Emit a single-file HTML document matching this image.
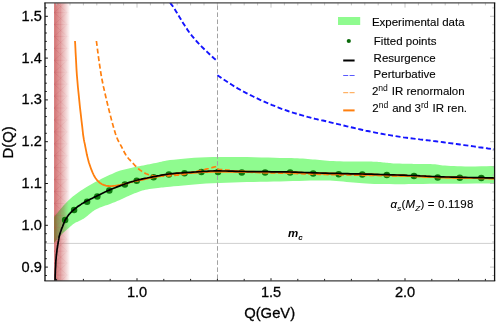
<!DOCTYPE html>
<html><head><meta charset="utf-8"><title>D(Q) plot</title>
<style>
html,body{margin:0;padding:0;background:#fff;}
body{width:498px;height:323px;position:relative;overflow:hidden;font-family:"Liberation Sans",sans-serif;color:#111;}
.t{position:absolute;white-space:nowrap;line-height:1;-webkit-text-stroke:0.3px #000;color:#000;font-family:"Liberation Sans",sans-serif;}
.sup{font-size:0.75em;position:relative;top:-0.45em;line-height:0;margin-right:0.7px;-webkit-text-stroke:0;}
.sub{font-size:0.7em;position:relative;top:0.36em;line-height:0;}
</style></head><body>
<svg width="498" height="323" viewBox="0 0 498 323" style="position:absolute;left:0;top:0">
<defs>
<clipPath id="cp"><rect x="45.0" y="2.8" width="449.6" height="278.09999999999997"/></clipPath>
<linearGradient id="rg" x1="0" x2="1" y1="0" y2="0"><stop offset="0" stop-color="#cd5c5c" stop-opacity="0.88"/><stop offset="0.45" stop-color="#cd5c5c" stop-opacity="0.52"/><stop offset="0.8" stop-color="#cd5c5c" stop-opacity="0.2"/><stop offset="1" stop-color="#cd5c5c" stop-opacity="0"/></linearGradient>
<linearGradient id="mg" gradientUnits="userSpaceOnUse" x1="54.1" x2="69.6" y1="0" y2="0"><stop offset="0" stop-color="#b8444e" stop-opacity="0.28"/><stop offset="0.6" stop-color="#c8606a" stop-opacity="0.16"/><stop offset="1" stop-color="#d88088" stop-opacity="0"/></linearGradient>
</defs>
<g clip-path="url(#cp)">
<line x1="45.0" x2="494.6" y1="243.4" y2="243.4" stroke="#cfcfcf" stroke-width="1"/>
<rect x="54.1" y="2.8" width="16.1" height="278.09999999999997" fill="url(#rg)"/>
<clipPath id="ov"><rect x="50" y="2.8" width="20" height="278.09999999999997"/></clipPath>
<clipPath id="nov"><rect x="70" y="2.8" width="430" height="278.09999999999997"/></clipPath>
<path d="M54.1,216.8 L54.7,216.0 L55.6,215.0 L56.7,213.7 L57.8,212.4 L58.9,211.1 L60.0,209.8 L61.0,208.6 L61.9,207.4 L62.9,206.3 L63.9,205.1 L65.0,203.9 L66.1,202.7 L67.3,201.5 L68.6,200.3 L70.0,199.0 L71.4,197.8 L72.8,196.6 L74.2,195.5 L75.5,194.4 L76.9,193.5 L78.2,192.5 L79.6,191.6 L81.0,190.6 L82.7,189.5 L84.6,188.3 L86.6,187.1 L88.7,185.8 L90.9,184.5 L93.1,183.3 L95.2,182.1 L97.3,181.0 L99.4,179.9 L101.5,178.8 L103.6,177.8 L105.7,176.8 L107.8,175.8 L109.9,174.8 L112.0,173.9 L114.0,173.0 L116.1,172.1 L118.2,171.3 L120.3,170.6 L122.4,170.0 L124.5,169.4 L126.6,168.9 L128.7,168.4 L130.8,168.0 L132.9,167.5 L135.0,167.0 L137.1,166.6 L139.2,166.2 L141.2,165.8 L143.3,165.4 L145.4,165.0 L147.5,164.6 L149.6,164.2 L151.7,163.7 L153.8,163.3 L155.9,162.9 L158.0,162.5 L159.8,162.1 L161.4,161.7 L162.9,161.3 L164.7,160.9 L167.0,160.5 L170.0,160.1 L173.8,159.7 L178.3,159.2 L183.2,158.7 L188.6,158.2 L194.2,157.8 L200.0,157.5 L206.1,157.3 L212.6,157.1 L219.4,157.0 L226.3,157.0 L233.2,157.0 L240.0,157.0 L246.9,157.1 L254.1,157.2 L261.2,157.4 L268.1,157.6 L274.5,157.8 L280.0,157.9 L284.5,158.0 L288.3,158.1 L291.6,158.1 L294.4,158.2 L297.2,158.3 L300.0,158.4 L302.8,158.6 L305.4,158.7 L307.8,158.9 L310.2,159.2 L312.6,159.4 L315.0,159.6 L317.4,159.8 L319.8,160.0 L322.2,160.3 L324.6,160.5 L327.2,160.7 L330.0,160.9 L333.1,161.1 L336.5,161.2 L340.0,161.3 L343.5,161.4 L346.9,161.5 L350.0,161.6 L352.8,161.6 L355.5,161.6 L358.0,161.6 L360.4,161.6 L362.7,161.6 L365.0,161.6 L367.2,161.6 L369.3,161.6 L371.4,161.6 L373.3,161.7 L375.2,161.7 L377.0,161.8 L378.7,161.9 L380.2,162.1 L381.7,162.2 L383.1,162.4 L384.5,162.5 L386.0,162.7 L387.4,162.8 L388.8,163.0 L390.1,163.1 L391.6,163.3 L393.2,163.4 L395.0,163.5 L397.2,163.6 L399.7,163.6 L402.4,163.7 L405.1,163.7 L407.7,163.8 L410.0,163.8 L411.9,163.8 L413.5,163.9 L415.0,163.9 L416.5,163.9 L418.1,164.0 L420.0,164.0 L422.3,164.0 L424.8,164.1 L427.5,164.1 L430.2,164.1 L432.7,164.2 L435.0,164.3 L436.8,164.5 L438.3,164.7 L439.7,164.9 L441.1,165.2 L442.8,165.4 L445.0,165.6 L447.6,165.8 L450.6,165.9 L453.8,166.1 L457.3,166.2 L461.0,166.3 L465.0,166.4 L469.7,166.4 L475.3,166.4 L481.1,166.3 L486.6,166.2 L491.3,166.1 L494.6,166.1 L494.6,183.6 L487.2,183.6 L476.6,183.6 L464.2,183.7 L451.4,183.7 L439.5,183.8 L430.0,183.8 L423.0,183.9 L417.4,184.0 L412.8,184.0 L408.7,184.1 L404.6,184.2 L400.0,184.2 L394.9,184.2 L389.6,184.1 L384.4,184.1 L379.3,184.0 L374.4,183.9 L370.0,183.7 L366.1,183.5 L362.6,183.3 L359.4,183.0 L356.3,182.7 L353.2,182.5 L350.0,182.2 L346.6,181.9 L343.1,181.6 L339.7,181.3 L336.3,181.0 L333.0,180.8 L330.0,180.6 L327.4,180.5 L325.4,180.4 L323.4,180.4 L321.3,180.4 L318.6,180.4 L315.0,180.5 L310.4,180.6 L305.0,180.7 L299.1,180.9 L292.8,181.1 L286.4,181.2 L280.0,181.4 L273.6,181.5 L267.0,181.7 L260.3,181.8 L253.5,181.9 L246.7,182.1 L240.0,182.3 L233.2,182.5 L226.3,182.8 L219.4,183.0 L212.6,183.3 L206.1,183.6 L200.0,184.0 L194.2,184.4 L188.6,184.9 L183.2,185.4 L178.3,185.9 L173.8,186.3 L170.0,186.7 L167.0,187.0 L164.7,187.2 L162.9,187.4 L161.4,187.5 L159.8,187.7 L158.0,187.9 L155.9,188.2 L153.7,188.5 L151.5,188.8 L149.3,189.1 L147.3,189.4 L145.4,189.8 L143.7,190.2 L142.2,190.6 L140.9,191.0 L139.5,191.5 L138.3,191.9 L137.0,192.4 L135.8,192.9 L134.6,193.3 L133.5,193.8 L132.4,194.2 L131.3,194.7 L130.0,195.3 L128.6,195.9 L127.1,196.6 L125.6,197.3 L124.1,198.1 L122.5,198.8 L120.9,199.5 L119.3,200.2 L117.8,200.8 L116.2,201.5 L114.6,202.2 L112.9,202.8 L111.2,203.5 L109.4,204.2 L107.4,204.9 L105.3,205.6 L103.4,206.3 L101.5,207.0 L99.9,207.6 L98.5,208.2 L97.3,208.7 L96.3,209.3 L95.3,209.8 L94.4,210.3 L93.5,210.9 L92.6,211.5 L91.7,212.2 L90.9,212.9 L90.1,213.5 L89.3,214.2 L88.6,214.8 L87.9,215.4 L87.2,215.9 L86.6,216.5 L85.9,217.0 L85.3,217.5 L84.6,218.0 L83.9,218.5 L83.2,218.9 L82.4,219.3 L81.6,219.7 L80.8,220.2 L80.0,220.6 L79.1,221.0 L78.1,221.5 L77.2,221.9 L76.1,222.3 L75.2,222.8 L74.2,223.4 L73.3,224.0 L72.4,224.7 L71.6,225.4 L70.7,226.2 L69.8,227.0 L68.8,227.9 L67.8,228.8 L66.7,229.7 L65.6,230.7 L64.4,231.7 L63.2,232.8 L62.0,234.0 L60.7,235.4 L59.2,237.1 L57.6,238.9 L56.2,240.6 L55.0,242.1 L54.1,243.1Z" fill="#8ffb8f" clip-path="url(#nov)"/>
<linearGradient id="og" gradientUnits="userSpaceOnUse" x1="54.1" x2="70" y1="0" y2="0"><stop offset="0" stop-color="rgb(140,112,56)"/><stop offset="0.084" stop-color="rgb(140,118,60)"/><stop offset="0.205" stop-color="rgb(143,140,85)"/><stop offset="0.386" stop-color="rgb(142,165,98)"/><stop offset="0.596" stop-color="rgb(140,190,110)"/><stop offset="0.747" stop-color="rgb(142,220,128)"/><stop offset="0.928" stop-color="rgb(143,249,142)"/><stop offset="1" stop-color="rgb(143,251,143)"/></linearGradient>
<path d="M54.1,216.8 L54.7,216.0 L55.6,215.0 L56.7,213.7 L57.8,212.4 L58.9,211.1 L60.0,209.8 L61.0,208.6 L61.9,207.4 L62.9,206.3 L63.9,205.1 L65.0,203.9 L66.1,202.7 L67.3,201.5 L68.6,200.3 L70.0,199.0 L71.4,197.8 L72.8,196.6 L74.2,195.5 L75.5,194.4 L76.9,193.5 L78.2,192.5 L79.6,191.6 L81.0,190.6 L82.7,189.5 L84.6,188.3 L86.6,187.1 L88.7,185.8 L90.9,184.5 L93.1,183.3 L95.2,182.1 L97.3,181.0 L99.4,179.9 L101.5,178.8 L103.6,177.8 L105.7,176.8 L107.8,175.8 L109.9,174.8 L112.0,173.9 L114.0,173.0 L116.1,172.1 L118.2,171.3 L120.3,170.6 L122.4,170.0 L124.5,169.4 L126.6,168.9 L128.7,168.4 L130.8,168.0 L132.9,167.5 L135.0,167.0 L137.1,166.6 L139.2,166.2 L141.2,165.8 L143.3,165.4 L145.4,165.0 L147.5,164.6 L149.6,164.2 L151.7,163.7 L153.8,163.3 L155.9,162.9 L158.0,162.5 L159.8,162.1 L161.4,161.7 L162.9,161.3 L164.7,160.9 L167.0,160.5 L170.0,160.1 L173.8,159.7 L178.3,159.2 L183.2,158.7 L188.6,158.2 L194.2,157.8 L200.0,157.5 L206.1,157.3 L212.6,157.1 L219.4,157.0 L226.3,157.0 L233.2,157.0 L240.0,157.0 L246.9,157.1 L254.1,157.2 L261.2,157.4 L268.1,157.6 L274.5,157.8 L280.0,157.9 L284.5,158.0 L288.3,158.1 L291.6,158.1 L294.4,158.2 L297.2,158.3 L300.0,158.4 L302.8,158.6 L305.4,158.7 L307.8,158.9 L310.2,159.2 L312.6,159.4 L315.0,159.6 L317.4,159.8 L319.8,160.0 L322.2,160.3 L324.6,160.5 L327.2,160.7 L330.0,160.9 L333.1,161.1 L336.5,161.2 L340.0,161.3 L343.5,161.4 L346.9,161.5 L350.0,161.6 L352.8,161.6 L355.5,161.6 L358.0,161.6 L360.4,161.6 L362.7,161.6 L365.0,161.6 L367.2,161.6 L369.3,161.6 L371.4,161.6 L373.3,161.7 L375.2,161.7 L377.0,161.8 L378.7,161.9 L380.2,162.1 L381.7,162.2 L383.1,162.4 L384.5,162.5 L386.0,162.7 L387.4,162.8 L388.8,163.0 L390.1,163.1 L391.6,163.3 L393.2,163.4 L395.0,163.5 L397.2,163.6 L399.7,163.6 L402.4,163.7 L405.1,163.7 L407.7,163.8 L410.0,163.8 L411.9,163.8 L413.5,163.9 L415.0,163.9 L416.5,163.9 L418.1,164.0 L420.0,164.0 L422.3,164.0 L424.8,164.1 L427.5,164.1 L430.2,164.1 L432.7,164.2 L435.0,164.3 L436.8,164.5 L438.3,164.7 L439.7,164.9 L441.1,165.2 L442.8,165.4 L445.0,165.6 L447.6,165.8 L450.6,165.9 L453.8,166.1 L457.3,166.2 L461.0,166.3 L465.0,166.4 L469.7,166.4 L475.3,166.4 L481.1,166.3 L486.6,166.2 L491.3,166.1 L494.6,166.1 L494.6,183.6 L487.2,183.6 L476.6,183.6 L464.2,183.7 L451.4,183.7 L439.5,183.8 L430.0,183.8 L423.0,183.9 L417.4,184.0 L412.8,184.0 L408.7,184.1 L404.6,184.2 L400.0,184.2 L394.9,184.2 L389.6,184.1 L384.4,184.1 L379.3,184.0 L374.4,183.9 L370.0,183.7 L366.1,183.5 L362.6,183.3 L359.4,183.0 L356.3,182.7 L353.2,182.5 L350.0,182.2 L346.6,181.9 L343.1,181.6 L339.7,181.3 L336.3,181.0 L333.0,180.8 L330.0,180.6 L327.4,180.5 L325.4,180.4 L323.4,180.4 L321.3,180.4 L318.6,180.4 L315.0,180.5 L310.4,180.6 L305.0,180.7 L299.1,180.9 L292.8,181.1 L286.4,181.2 L280.0,181.4 L273.6,181.5 L267.0,181.7 L260.3,181.8 L253.5,181.9 L246.7,182.1 L240.0,182.3 L233.2,182.5 L226.3,182.8 L219.4,183.0 L212.6,183.3 L206.1,183.6 L200.0,184.0 L194.2,184.4 L188.6,184.9 L183.2,185.4 L178.3,185.9 L173.8,186.3 L170.0,186.7 L167.0,187.0 L164.7,187.2 L162.9,187.4 L161.4,187.5 L159.8,187.7 L158.0,187.9 L155.9,188.2 L153.7,188.5 L151.5,188.8 L149.3,189.1 L147.3,189.4 L145.4,189.8 L143.7,190.2 L142.2,190.6 L140.9,191.0 L139.5,191.5 L138.3,191.9 L137.0,192.4 L135.8,192.9 L134.6,193.3 L133.5,193.8 L132.4,194.2 L131.3,194.7 L130.0,195.3 L128.6,195.9 L127.1,196.6 L125.6,197.3 L124.1,198.1 L122.5,198.8 L120.9,199.5 L119.3,200.2 L117.8,200.8 L116.2,201.5 L114.6,202.2 L112.9,202.8 L111.2,203.5 L109.4,204.2 L107.4,204.9 L105.3,205.6 L103.4,206.3 L101.5,207.0 L99.9,207.6 L98.5,208.2 L97.3,208.7 L96.3,209.3 L95.3,209.8 L94.4,210.3 L93.5,210.9 L92.6,211.5 L91.7,212.2 L90.9,212.9 L90.1,213.5 L89.3,214.2 L88.6,214.8 L87.9,215.4 L87.2,215.9 L86.6,216.5 L85.9,217.0 L85.3,217.5 L84.6,218.0 L83.9,218.5 L83.2,218.9 L82.4,219.3 L81.6,219.7 L80.8,220.2 L80.0,220.6 L79.1,221.0 L78.1,221.5 L77.2,221.9 L76.1,222.3 L75.2,222.8 L74.2,223.4 L73.3,224.0 L72.4,224.7 L71.6,225.4 L70.7,226.2 L69.8,227.0 L68.8,227.9 L67.8,228.8 L66.7,229.7 L65.6,230.7 L64.4,231.7 L63.2,232.8 L62.0,234.0 L60.7,235.4 L59.2,237.1 L57.6,238.9 L56.2,240.6 L55.0,242.1 L54.1,243.1Z" fill="url(#og)" clip-path="url(#ov)"/>
<path d="M54.1,0.67H70M54.1,0.67L67.2,12.60M67.2,0.67L54.1,12.60M54.1,12.60H70M54.1,12.60L67.2,24.53M67.2,12.60L54.1,24.53M54.1,24.53H70M54.1,24.53L67.2,36.46M67.2,24.53L54.1,36.46M54.1,36.46H70M54.1,36.46L67.2,48.39M67.2,36.46L54.1,48.39M54.1,48.39H70M54.1,48.39L67.2,60.32M67.2,48.39L54.1,60.32M54.1,60.32H70M54.1,60.32L67.2,72.25M67.2,60.32L54.1,72.25M54.1,72.25H70M54.1,72.25L67.2,84.18M67.2,72.25L54.1,84.18M54.1,84.18H70M54.1,84.18L67.2,96.11M67.2,84.18L54.1,96.11M54.1,96.11H70M54.1,96.11L67.2,108.04M67.2,96.11L54.1,108.04M54.1,108.04H70M54.1,108.04L67.2,119.97M67.2,108.04L54.1,119.97M54.1,119.97H70M54.1,119.97L67.2,131.90M67.2,119.97L54.1,131.90M54.1,131.90H70M54.1,131.90L67.2,143.83M67.2,131.90L54.1,143.83M54.1,143.83H70M54.1,143.83L67.2,155.76M67.2,143.83L54.1,155.76M54.1,155.76H70M54.1,155.76L67.2,167.69M67.2,155.76L54.1,167.69M54.1,167.69H70M54.1,167.69L67.2,179.62M67.2,167.69L54.1,179.62M54.1,179.62H70M54.1,179.62L67.2,191.55M67.2,179.62L54.1,191.55M54.1,191.55H70M54.1,191.55L67.2,203.48M67.2,191.55L54.1,203.48M54.1,203.48H70M54.1,203.48L67.2,215.41M67.2,203.48L54.1,215.41M54.1,215.41H70M54.1,215.41L67.2,227.34M67.2,215.41L54.1,227.34M54.1,227.34H70M54.1,227.34L67.2,239.27M67.2,227.34L54.1,239.27M54.1,239.27H70M54.1,239.27L67.2,251.20M67.2,239.27L54.1,251.20M54.1,251.20H70M54.1,251.20L67.2,263.13M67.2,251.20L54.1,263.13M54.1,263.13H70M54.1,263.13L67.2,275.06M67.2,263.13L54.1,275.06M54.1,275.06H70M54.1,275.06L67.2,286.99M67.2,275.06L54.1,286.99M54.1,286.99H70M54.1,286.99L67.2,298.92M67.2,286.99L54.1,298.92M60.7,2.8V280.9" fill="none" stroke="url(#mg)" stroke-width="0.8"/>
<line x1="217.5" x2="217.5" y1="2.8" y2="280.9" stroke="#a2a2a2" stroke-width="1" stroke-dasharray="4.6 2.483" stroke-dashoffset="4.58"/>
<circle cx="65.1" cy="220.0" r="3.25" fill="#006a00" fill-opacity="0.9"/>
<circle cx="74.1" cy="210.1" r="3.25" fill="#006a00" fill-opacity="0.9"/>
<circle cx="87.1" cy="201.7" r="3.25" fill="#006a00" fill-opacity="0.9"/>
<circle cx="97.3" cy="196.5" r="3.25" fill="#006a00" fill-opacity="0.9"/>
<circle cx="109.3" cy="190.6" r="3.25" fill="#006a00" fill-opacity="0.9"/>
<circle cx="124.9" cy="184.5" r="3.25" fill="#006a00" fill-opacity="0.9"/>
<circle cx="136.7" cy="180.8" r="3.25" fill="#006a00" fill-opacity="0.9"/>
<circle cx="153.6" cy="177.2" r="3.25" fill="#006a00" fill-opacity="0.9"/>
<circle cx="168.9" cy="174.5" r="3.25" fill="#006a00" fill-opacity="0.9"/>
<circle cx="184.5" cy="173.2" r="3.25" fill="#006a00" fill-opacity="0.9"/>
<circle cx="201.4" cy="172.1" r="3.25" fill="#006a00" fill-opacity="0.9"/>
<circle cx="218" cy="172.0" r="3.25" fill="#006a00" fill-opacity="0.9"/>
<circle cx="241.8" cy="172.5" r="3.25" fill="#006a00" fill-opacity="0.9"/>
<circle cx="265.1" cy="172.4" r="3.25" fill="#006a00" fill-opacity="0.9"/>
<circle cx="290.1" cy="172.5" r="3.25" fill="#006a00" fill-opacity="0.9"/>
<circle cx="313.2" cy="173.5" r="3.25" fill="#006a00" fill-opacity="0.9"/>
<circle cx="338.7" cy="174.2" r="3.25" fill="#006a00" fill-opacity="0.9"/>
<circle cx="362.3" cy="174.4" r="3.25" fill="#006a00" fill-opacity="0.9"/>
<circle cx="386.8" cy="175.0" r="3.25" fill="#006a00" fill-opacity="0.9"/>
<circle cx="414" cy="176.1" r="3.25" fill="#006a00" fill-opacity="0.9"/>
<circle cx="437.7" cy="177.5" r="3.25" fill="#006a00" fill-opacity="0.9"/>
<circle cx="459.8" cy="177.7" r="3.25" fill="#006a00" fill-opacity="0.9"/>
<circle cx="481.3" cy="178.0" r="3.25" fill="#006a00" fill-opacity="0.9"/>
<path d="M75.0,41.0 L75.2,44.0 L75.4,48.0 L75.6,52.6 L75.9,57.9 L76.2,63.5 L76.5,69.4 L76.9,75.2 L77.4,81.0 L77.9,87.0 L78.6,93.6 L79.3,100.6 L80.0,107.6 L80.8,114.4 L81.5,120.7 L82.2,126.4 L82.7,131.0 L83.1,134.6 L83.5,137.2 L83.8,139.2 L84.1,140.7 L84.3,141.9 L84.6,143.1 L84.9,144.4 L85.2,146.1 L85.6,148.1 L86.0,150.1 L86.4,152.2 L86.8,154.3 L87.3,156.4 L87.8,158.4 L88.3,160.3 L88.8,162.2 L89.4,164.0 L90.0,165.8 L90.6,167.5 L91.2,169.2 L91.9,170.9 L92.5,172.4 L93.2,173.8 L93.8,175.1 L94.4,176.2 L95.0,177.3 L95.6,178.2 L96.2,179.0 L96.8,179.8 L97.4,180.4 L98.0,181.1 L98.6,181.7 L99.2,182.3 L99.8,182.8 L100.4,183.2 L101.0,183.6 L101.6,184.0 L102.2,184.3 L102.9,184.6 L103.6,184.9 L104.3,185.2 L105.1,185.4 L105.8,185.6 L106.6,185.8 L107.4,185.9 L108.3,186.0 L109.1,186.1 L110.0,186.1 L110.9,186.1 L111.9,186.1 L112.9,186.0 L113.9,185.9 L114.9,185.8 L116.0,185.6 L117.0,185.5 L118.0,185.3 L119.0,185.1 L119.9,185.0 L120.9,184.8 L121.8,184.6 L122.8,184.4 L123.8,184.1 L124.9,183.9 L126.0,183.6 L127.2,183.3 L128.3,183.0 L129.5,182.6 L130.8,182.2 L132.1,181.8 L133.5,181.4 L135.0,181.0 L136.7,180.6 L138.5,180.2 L140.5,179.7 L142.7,179.2 L144.9,178.8 L147.1,178.3 L149.3,177.8 L151.5,177.4 L153.6,177.0 L155.6,176.6 L157.5,176.3 L159.4,175.9 L161.3,175.6 L163.2,175.2 L165.1,174.9 L167.0,174.7 L168.9,174.4 L170.8,174.2 L172.7,174.0 L174.7,173.8 L176.6,173.6 L178.5,173.4 L180.5,173.3 L182.5,173.1 L184.5,173.0 L186.6,172.9 L188.7,172.8 L190.8,172.6 L193.0,172.5 L195.1,172.5 L197.2,172.4 L199.3,172.3 L201.4,172.2 L203.3,172.1 L205.2,172.0 L206.9,171.9 L208.7,171.9 L210.5,171.8 L212.5,171.7 L214.6,171.6 L217.0,171.6 L219.7,171.6 L222.6,171.5 L225.7,171.5 L228.9,171.5 L232.2,171.5 L235.5,171.5 L238.7,171.5 L241.8,171.5 L244.8,171.5 L247.7,171.6 L250.5,171.7 L253.4,171.7 L256.2,171.8 L259.1,171.9 L262.0,171.9 L265.0,172.0 L268.1,172.0 L271.2,172.1 L274.3,172.1 L277.5,172.1 L280.7,172.2 L283.8,172.2 L287.0,172.2 L290.0,172.3 L293.0,172.4 L295.8,172.5 L298.7,172.6 L301.5,172.7 L304.3,172.8 L307.1,172.9 L310.0,173.0 L313.0,173.1 L316.1,173.2 L319.3,173.3 L322.5,173.4 L325.8,173.5 L329.1,173.6 L332.4,173.6 L335.6,173.7 L338.7,173.8 L341.7,173.9 L344.7,173.9 L347.7,174.0 L350.6,174.1 L353.5,174.1 L356.4,174.2 L359.3,174.2 L362.3,174.3 L365.3,174.4 L368.3,174.5 L371.4,174.5 L374.4,174.6 L377.5,174.7 L380.6,174.8 L383.8,174.9 L387.0,175.0 L390.3,175.1 L393.7,175.2 L397.1,175.3 L400.6,175.4 L404.0,175.5 L407.4,175.7 L410.8,175.8 L414.0,175.9 L417.1,176.0 L420.2,176.2 L423.2,176.3 L426.2,176.5 L429.2,176.6 L432.1,176.8 L434.9,176.9 L437.8,177.0 L440.6,177.1 L443.4,177.2 L446.1,177.3 L448.8,177.3 L451.5,177.4 L454.2,177.5 L456.9,177.5 L459.6,177.6 L462.4,177.7 L465.2,177.7 L468.1,177.8 L471.0,177.8 L473.8,177.9 L476.5,177.9 L479.0,178.0 L481.3,178.0 L483.5,178.0 L485.5,178.1 L487.5,178.1 L489.3,178.2 L491.0,178.2 L492.4,178.2 L493.6,178.3 L494.6,178.3" fill="none" stroke="#ff7f0e" stroke-width="1.8"/>
<path d="M136.7,180.8 L138.0,180.5 L139.8,180.1 L141.9,179.7 L144.2,179.2 L146.6,178.6 L149.1,178.1 L151.4,177.6 L153.6,177.2 L155.6,176.8 L157.5,176.4 L159.4,176.1 L161.3,175.7 L163.2,175.4 L165.1,175.1 L167.0,174.8 L168.9,174.5 L170.8,174.3 L172.7,174.1 L174.7,173.9 L176.6,173.8 L178.5,173.6 L180.5,173.5 L182.5,173.3 L184.5,173.2 L186.6,173.1 L188.7,172.9 L190.8,172.8 L193.0,172.6 L195.1,172.5 L197.2,172.3 L199.3,172.2 L201.4,172.1 L203.3,172.0 L205.2,171.9 L206.9,171.8 L208.7,171.6 L210.5,171.5 L212.5,171.5 L214.6,171.4 L217.0,171.4 L219.7,171.4 L222.6,171.5 L225.7,171.5 L228.9,171.6 L232.2,171.7 L235.5,171.8 L238.7,171.9 L241.8,172.0 L244.8,172.0 L247.7,172.1 L250.5,172.1 L253.4,172.1 L256.2,172.1 L259.1,172.2 L262.0,172.2 L265.0,172.2 L268.1,172.2 L271.2,172.3 L274.3,172.3 L277.5,172.3 L280.7,172.3 L283.8,172.4 L287.0,172.4 L290.0,172.5 L293.0,172.6 L295.8,172.7 L298.7,172.8 L301.5,172.9 L304.3,173.0 L307.1,173.1 L310.0,173.2 L313.0,173.3 L316.1,173.4 L319.3,173.5 L322.5,173.6 L325.8,173.7 L329.1,173.8 L332.4,173.8 L335.6,173.9 L338.7,174.0 L341.7,174.1 L344.7,174.1 L347.7,174.2 L350.6,174.3 L353.5,174.3 L356.4,174.4 L359.3,174.4 L362.3,174.5 L365.3,174.6 L368.3,174.7 L371.4,174.7 L374.4,174.8 L377.5,174.9 L380.6,175.0 L383.8,175.1 L387.0,175.2 L390.3,175.3 L393.7,175.4 L397.1,175.5 L400.6,175.6 L404.0,175.7 L407.4,175.9 L410.8,176.0 L414.0,176.1 L417.1,176.2 L420.2,176.4 L423.2,176.5 L426.2,176.7 L429.2,176.8 L432.1,177.0 L434.9,177.1 L437.8,177.2 L440.6,177.3 L443.4,177.4 L446.1,177.5 L448.8,177.5 L451.5,177.6 L454.2,177.7 L456.9,177.7 L459.6,177.8 L462.4,177.9 L465.2,177.9 L468.1,178.0 L471.0,178.0 L473.8,178.1 L476.5,178.1 L479.0,178.2 L481.3,178.2 L483.5,178.2 L485.5,178.3 L487.5,178.3 L489.3,178.4 L491.0,178.4 L492.4,178.4 L493.6,178.5 L494.6,178.5" fill="none" stroke="#ff7f0e" stroke-width="2.0"/>
<path d="M96.4,41.0 L96.8,44.0 L97.3,48.0 L97.9,52.7 L98.6,57.9 L99.4,63.6 L100.3,69.4 L101.2,75.3 L102.3,81.0 L103.5,86.9 L105.0,93.4 L106.6,100.2 L108.2,107.0 L109.9,113.6 L111.5,119.9 L113.0,125.4 L114.3,130.0 L115.4,133.6 L116.4,136.5 L117.3,138.7 L118.1,140.5 L118.9,141.9 L119.7,143.2 L120.4,144.6 L121.2,146.1 L122.0,147.7 L122.7,149.2 L123.5,150.7 L124.2,152.0 L124.9,153.3 L125.6,154.5 L126.3,155.6 L127.0,156.6 L127.7,157.5 L128.3,158.3 L128.9,159.0 L129.5,159.6 L130.1,160.2 L130.7,160.9 L131.3,161.5 L132.0,162.2 L132.7,163.0 L133.5,163.8 L134.3,164.7 L135.1,165.6 L135.9,166.4 L136.7,167.2 L137.5,168.0 L138.3,168.7 L139.0,169.3 L139.8,169.9 L140.5,170.4 L141.2,170.9 L141.9,171.4 L142.6,171.8 L143.3,172.2 L144.0,172.6 L144.7,173.0 L145.4,173.4 L146.1,173.7 L146.9,174.0 L147.6,174.3 L148.4,174.6 L149.2,174.9 L150.0,175.1 L150.9,175.3 L151.9,175.5 L152.9,175.7 L153.9,175.8 L154.9,175.9 L156.0,176.0 L157.0,176.1 L158.0,176.2 L159.0,176.2 L160.0,176.3 L161.0,176.2 L162.0,176.2 L163.0,176.2 L164.0,176.1 L165.0,176.1 L166.0,176.0 L167.0,175.9 L168.0,175.9 L169.0,175.8 L170.0,175.7 L171.0,175.7 L172.0,175.6 L173.0,175.5 L174.0,175.4 L175.0,175.3 L176.0,175.2 L177.0,175.1 L178.0,175.1 L179.0,175.0 L180.0,174.9 L181.0,174.7 L182.0,174.6 L183.0,174.4 L184.0,174.3 L185.0,174.1 L186.0,173.9 L187.0,173.7 L188.0,173.4 L189.0,173.2 L190.0,173.0 L191.0,172.8 L192.0,172.5 L193.1,172.3 L194.1,172.0 L195.1,171.8 L196.2,171.5 L197.2,171.2 L198.2,171.0 L199.2,170.8 L200.2,170.5 L201.1,170.3 L202.1,170.1 L203.1,169.9 L204.1,169.6 L205.1,169.4 L206.2,169.1 L207.4,168.8 L208.7,168.5 L210.1,168.1 L211.5,167.8 L212.8,167.4 L214.0,167.1 L215.1,166.8 L215.9,166.6 L216.5,166.4 L216.9,166.3 L217.1,166.3 L217.3,166.2 L217.3,166.2 L217.3,166.2 L217.3,166.2 L217.4,166.2" fill="none" stroke="#ff7f0e" stroke-width="1.7" stroke-dasharray="5 2.6"/>
<path d="M217.4,169.2 L218.2,169.3 L219.2,169.4 L220.5,169.5 L221.8,169.6 L223.3,169.7 L224.9,169.9 L226.4,170.0 L228.0,170.2 L229.5,170.4 L231.0,170.6 L232.5,170.8 L234.1,171.0 L235.8,171.2 L237.6,171.4 L239.6,171.6 L241.8,171.8 L244.2,171.9 L246.9,172.1 L249.7,172.2 L252.7,172.3 L255.8,172.4 L258.9,172.5 L261.9,172.6 L265.0,172.7 L268.1,172.8 L271.2,172.9 L274.3,172.9 L277.5,173.0 L280.7,173.1 L283.8,173.1 L287.0,173.2 L290.0,173.3 L293.0,173.4 L295.8,173.5 L298.7,173.6 L301.5,173.7 L304.3,173.8 L307.1,173.9 L310.0,174.0 L313.0,174.1 L316.1,174.2 L319.3,174.3 L322.5,174.4 L325.8,174.5 L329.1,174.6 L332.4,174.6 L335.6,174.7 L338.7,174.8 L341.7,174.9 L344.7,174.9 L347.7,175.0 L350.6,175.0 L353.5,175.1 L356.4,175.1 L359.3,175.1 L362.3,175.2 L365.3,175.3 L368.3,175.3 L371.4,175.4 L374.4,175.4 L377.5,175.5 L380.6,175.6 L383.8,175.6 L387.0,175.7 L390.3,175.8 L393.7,175.8 L397.1,175.9 L400.6,176.0 L404.0,176.0 L407.4,176.1 L410.8,176.2 L414.0,176.3 L417.1,176.4 L420.2,176.5 L423.2,176.6 L426.2,176.8 L429.2,176.9 L432.1,177.0 L434.9,177.1 L437.8,177.2 L440.5,177.3 L443.1,177.4 L445.5,177.4 L448.0,177.5 L450.5,177.5 L453.3,177.6 L456.3,177.6 L459.6,177.7 L463.6,177.8 L468.2,177.9 L473.3,177.9 L478.5,178.0 L483.5,178.1 L488.0,178.2 L491.8,178.3 L494.6,178.3" fill="none" stroke="#ff7f0e" stroke-width="1.7" stroke-dasharray="5 2.6"/>
<path d="M170.2,2.8 L170.5,3.3 L170.9,3.8 L171.4,4.4 L171.9,5.1 L172.6,6.0 L173.3,7.1 L174.2,8.4 L175.2,10.0 L176.4,11.9 L177.8,14.2 L179.3,16.8 L181.0,19.6 L182.7,22.4 L184.4,25.1 L186.1,27.7 L187.7,30.1 L189.2,32.2 L190.7,34.2 L192.2,36.1 L193.7,37.9 L195.2,39.7 L196.8,41.5 L198.5,43.3 L200.3,45.2 L202.3,47.3 L204.7,49.6 L207.1,51.9 L209.6,54.2 L212.0,56.5 L214.2,58.5 L216.1,60.1 L217.4,61.4" fill="none" stroke="#1414ff" stroke-width="1.9" stroke-dasharray="5 2.6"/>
<path d="M217.4,75.2 L218.9,76.2 L220.9,77.6 L223.3,79.2 L226.0,81.0 L228.8,82.9 L231.8,84.8 L234.8,86.7 L237.7,88.4 L240.6,90.0 L243.6,91.7 L246.8,93.3 L249.9,94.9 L253.2,96.5 L256.4,98.0 L259.6,99.6 L262.8,101.0 L265.9,102.4 L269.1,103.7 L272.2,105.1 L275.4,106.3 L278.5,107.6 L281.6,108.8 L284.8,109.9 L287.9,111.0 L291.1,112.1 L294.5,113.1 L297.9,114.1 L301.3,115.1 L304.5,116.0 L307.6,116.9 L310.5,117.6 L313.0,118.3 L315.0,118.8 L316.6,119.2 L317.9,119.5 L319.0,119.7 L320.1,119.9 L321.4,120.2 L323.0,120.5 L325.0,121.0 L327.5,121.6 L330.4,122.3 L333.5,123.1 L336.8,123.9 L340.2,124.7 L343.6,125.5 L347.0,126.3 L350.2,127.1 L353.3,127.8 L356.5,128.5 L359.6,129.3 L362.8,130.0 L365.9,130.7 L369.0,131.3 L372.2,132.0 L375.3,132.6 L378.4,133.2 L381.6,133.8 L384.7,134.4 L387.9,134.9 L391.0,135.4 L394.2,135.9 L397.3,136.4 L400.4,136.9 L403.6,137.4 L406.9,137.8 L410.3,138.2 L413.6,138.6 L416.8,139.0 L419.8,139.4 L422.6,139.7 L425.0,140.0 L426.9,140.2 L428.4,140.4 L429.5,140.5 L430.4,140.6 L431.4,140.8 L432.5,140.9 L433.9,141.1 L435.8,141.3 L438.1,141.6 L440.7,141.9 L443.4,142.3 L446.4,142.7 L449.6,143.1 L452.9,143.5 L456.4,144.0 L460.0,144.5 L464.1,145.1 L468.7,145.7 L473.7,146.4 L478.8,147.2 L483.7,147.8 L488.1,148.5 L491.9,149.0 L494.6,149.4" fill="none" stroke="#1414ff" stroke-width="1.9" stroke-dasharray="5 2.6"/>
<path d="M55.0,281.0 L55.1,279.5 L55.1,277.4 L55.2,274.9 L55.3,272.2 L55.4,269.4 L55.6,266.6 L55.7,264.1 L55.8,262.0 L55.9,260.2 L56.1,258.6 L56.2,257.1 L56.3,255.8 L56.5,254.5 L56.6,253.3 L56.8,252.1 L56.9,251.0 L57.0,249.9 L57.1,249.0 L57.3,248.1 L57.4,247.3 L57.5,246.5 L57.6,245.7 L57.8,244.9 L57.9,244.0 L58.1,243.1 L58.2,242.1 L58.4,241.2 L58.6,240.2 L58.7,239.3 L58.9,238.4 L59.0,237.5 L59.2,236.8 L59.3,236.2 L59.5,235.6 L59.6,235.1 L59.7,234.7 L59.8,234.3 L59.9,233.9 L60.1,233.4 L60.2,233.0 L60.3,232.6 L60.4,232.2 L60.6,231.8 L60.7,231.4 L60.8,231.0 L61.0,230.6 L61.2,230.0 L61.4,229.4 L61.7,228.6 L62.1,227.7 L62.5,226.7 L62.9,225.6 L63.3,224.6 L63.7,223.6 L64.1,222.7 L64.4,222.0 L64.6,221.5 L64.7,221.2 L64.8,220.9 L64.8,220.8 L64.9,220.7 L65.0,220.5 L65.1,220.2 L65.4,219.8 L65.7,219.2 L66.1,218.6 L66.6,217.9 L67.1,217.1 L67.6,216.3 L68.2,215.5 L68.7,214.8 L69.3,214.1 L69.9,213.5 L70.4,212.9 L71.0,212.3 L71.6,211.7 L72.2,211.1 L72.8,210.6 L73.5,210.0 L74.2,209.4 L74.9,208.8 L75.7,208.2 L76.5,207.6 L77.3,206.9 L78.1,206.3 L79.0,205.7 L79.8,205.2 L80.6,204.6 L81.4,204.1 L82.1,203.6 L82.9,203.2 L83.6,202.7 L84.4,202.3 L85.2,201.8 L86.1,201.3 L87.1,200.8 L88.2,200.2 L89.3,199.7 L90.6,199.0 L91.9,198.4 L93.2,197.8 L94.5,197.1 L95.9,196.5 L97.3,195.8 L98.7,195.1 L100.1,194.4 L101.5,193.7 L103.0,193.0 L104.5,192.3 L106.0,191.6 L107.6,190.8 L109.3,190.1 L111.1,189.3 L113.0,188.5 L115.1,187.7 L117.1,186.9 L119.2,186.1 L121.2,185.4 L123.1,184.7 L124.9,184.0 L126.5,183.4 L128.0,182.9 L129.4,182.4 L130.7,182.0 L132.1,181.6 L133.5,181.2 L135.0,180.7 L136.7,180.3 L138.6,179.8 L140.6,179.4 L142.7,178.9 L144.9,178.4 L147.2,178.0 L149.4,177.5 L151.5,177.1 L153.6,176.7 L155.6,176.3 L157.5,175.9 L159.4,175.6 L161.3,175.2 L163.2,174.9 L165.1,174.6 L167.0,174.3 L168.9,174.0 L170.8,173.8 L172.7,173.6 L174.7,173.4 L176.6,173.2 L178.5,173.1 L180.5,173.0 L182.5,172.8 L184.5,172.7 L186.6,172.6 L188.7,172.4 L190.8,172.3 L193.0,172.1 L195.1,172.0 L197.2,171.8 L199.3,171.7 L201.4,171.6 L203.3,171.5 L205.2,171.4 L206.9,171.3 L208.7,171.1 L210.5,171.0 L212.5,171.0 L214.6,170.9 L217.0,170.9 L219.7,170.9 L222.6,171.0 L225.7,171.0 L228.9,171.1 L232.2,171.2 L235.5,171.3 L238.7,171.4 L241.8,171.5 L244.8,171.5 L247.7,171.6 L250.5,171.6 L253.4,171.6 L256.2,171.6 L259.1,171.7 L262.0,171.7 L265.0,171.7 L268.1,171.7 L271.2,171.8 L274.3,171.8 L277.5,171.8 L280.7,171.8 L283.8,171.9 L287.0,171.9 L290.0,172.0 L293.0,172.1 L295.8,172.2 L298.7,172.3 L301.5,172.4 L304.3,172.5 L307.1,172.6 L310.0,172.7 L313.0,172.8 L316.1,172.9 L319.3,173.0 L322.5,173.1 L325.8,173.2 L329.1,173.3 L332.4,173.3 L335.6,173.4 L338.7,173.5 L341.7,173.6 L344.7,173.6 L347.7,173.7 L350.6,173.8 L353.5,173.8 L356.4,173.9 L359.3,173.9 L362.3,174.0 L365.3,174.1 L368.3,174.2 L371.4,174.2 L374.4,174.3 L377.5,174.4 L380.6,174.5 L383.8,174.6 L387.0,174.7 L390.3,174.8 L393.7,174.9 L397.1,175.0 L400.6,175.1 L404.0,175.2 L407.4,175.4 L410.8,175.5 L414.0,175.6 L417.1,175.7 L420.2,175.9 L423.2,176.0 L426.2,176.2 L429.2,176.3 L432.1,176.5 L434.9,176.6 L437.8,176.7 L440.6,176.8 L443.4,176.9 L446.1,177.0 L448.8,177.0 L451.5,177.1 L454.2,177.2 L456.9,177.2 L459.6,177.3 L462.4,177.4 L465.2,177.4 L468.1,177.5 L471.0,177.5 L473.8,177.6 L476.5,177.6 L479.0,177.7 L481.3,177.7 L483.5,177.7 L485.5,177.8 L487.5,177.8 L489.3,177.9 L491.0,177.9 L492.4,177.9 L493.6,178.0 L494.6,178.0" fill="none" stroke="#000" stroke-width="1.7"/>
</g>
<line x1="56.6" x2="56.6" y1="2.8" y2="5.4" stroke="#b8b8b8" stroke-width="0.8"/>
<line x1="56.6" x2="56.6" y1="280.9" y2="278.9" stroke="#1a1a1a" stroke-width="1"/>
<line x1="70.0" x2="70.0" y1="2.8" y2="5.4" stroke="#b8b8b8" stroke-width="0.8"/>
<line x1="83.4" x2="83.4" y1="2.8" y2="5.4" stroke="#b8b8b8" stroke-width="0.8"/>
<line x1="83.4" x2="83.4" y1="280.9" y2="278.9" stroke="#1a1a1a" stroke-width="1"/>
<line x1="96.8" x2="96.8" y1="2.8" y2="5.4" stroke="#b8b8b8" stroke-width="0.8"/>
<line x1="110.2" x2="110.2" y1="2.8" y2="5.4" stroke="#b8b8b8" stroke-width="0.8"/>
<line x1="110.2" x2="110.2" y1="280.9" y2="278.9" stroke="#1a1a1a" stroke-width="1"/>
<line x1="123.6" x2="123.6" y1="2.8" y2="5.4" stroke="#b8b8b8" stroke-width="0.8"/>
<line x1="137.0" x2="137.0" y1="2.8" y2="7.6" stroke="#b8b8b8" stroke-width="0.8"/>
<line x1="137.0" x2="137.0" y1="280.9" y2="278.2" stroke="#1a1a1a" stroke-width="1"/>
<line x1="150.4" x2="150.4" y1="2.8" y2="5.4" stroke="#b8b8b8" stroke-width="0.8"/>
<line x1="163.8" x2="163.8" y1="2.8" y2="5.4" stroke="#b8b8b8" stroke-width="0.8"/>
<line x1="163.8" x2="163.8" y1="280.9" y2="278.9" stroke="#1a1a1a" stroke-width="1"/>
<line x1="177.2" x2="177.2" y1="2.8" y2="5.4" stroke="#b8b8b8" stroke-width="0.8"/>
<line x1="190.6" x2="190.6" y1="2.8" y2="5.4" stroke="#b8b8b8" stroke-width="0.8"/>
<line x1="190.6" x2="190.6" y1="280.9" y2="278.9" stroke="#1a1a1a" stroke-width="1"/>
<line x1="204.0" x2="204.0" y1="2.8" y2="5.4" stroke="#b8b8b8" stroke-width="0.8"/>
<line x1="217.4" x2="217.4" y1="2.8" y2="5.4" stroke="#b8b8b8" stroke-width="0.8"/>
<line x1="217.4" x2="217.4" y1="280.9" y2="278.9" stroke="#1a1a1a" stroke-width="1"/>
<line x1="230.8" x2="230.8" y1="2.8" y2="5.4" stroke="#b8b8b8" stroke-width="0.8"/>
<line x1="244.2" x2="244.2" y1="2.8" y2="5.4" stroke="#b8b8b8" stroke-width="0.8"/>
<line x1="244.2" x2="244.2" y1="280.9" y2="278.9" stroke="#1a1a1a" stroke-width="1"/>
<line x1="257.6" x2="257.6" y1="2.8" y2="5.4" stroke="#b8b8b8" stroke-width="0.8"/>
<line x1="271.0" x2="271.0" y1="2.8" y2="7.6" stroke="#b8b8b8" stroke-width="0.8"/>
<line x1="271.0" x2="271.0" y1="280.9" y2="278.2" stroke="#1a1a1a" stroke-width="1"/>
<line x1="284.4" x2="284.4" y1="2.8" y2="5.4" stroke="#b8b8b8" stroke-width="0.8"/>
<line x1="297.8" x2="297.8" y1="2.8" y2="5.4" stroke="#b8b8b8" stroke-width="0.8"/>
<line x1="297.8" x2="297.8" y1="280.9" y2="278.9" stroke="#1a1a1a" stroke-width="1"/>
<line x1="311.2" x2="311.2" y1="2.8" y2="5.4" stroke="#b8b8b8" stroke-width="0.8"/>
<line x1="324.6" x2="324.6" y1="2.8" y2="5.4" stroke="#b8b8b8" stroke-width="0.8"/>
<line x1="324.6" x2="324.6" y1="280.9" y2="278.9" stroke="#1a1a1a" stroke-width="1"/>
<line x1="338.0" x2="338.0" y1="2.8" y2="5.4" stroke="#b8b8b8" stroke-width="0.8"/>
<line x1="351.4" x2="351.4" y1="2.8" y2="5.4" stroke="#b8b8b8" stroke-width="0.8"/>
<line x1="351.4" x2="351.4" y1="280.9" y2="278.9" stroke="#1a1a1a" stroke-width="1"/>
<line x1="364.8" x2="364.8" y1="2.8" y2="5.4" stroke="#b8b8b8" stroke-width="0.8"/>
<line x1="378.2" x2="378.2" y1="2.8" y2="5.4" stroke="#b8b8b8" stroke-width="0.8"/>
<line x1="378.2" x2="378.2" y1="280.9" y2="278.9" stroke="#1a1a1a" stroke-width="1"/>
<line x1="391.6" x2="391.6" y1="2.8" y2="5.4" stroke="#b8b8b8" stroke-width="0.8"/>
<line x1="405.0" x2="405.0" y1="2.8" y2="7.6" stroke="#b8b8b8" stroke-width="0.8"/>
<line x1="405.0" x2="405.0" y1="280.9" y2="278.2" stroke="#1a1a1a" stroke-width="1"/>
<line x1="418.4" x2="418.4" y1="2.8" y2="5.4" stroke="#b8b8b8" stroke-width="0.8"/>
<line x1="431.8" x2="431.8" y1="2.8" y2="5.4" stroke="#b8b8b8" stroke-width="0.8"/>
<line x1="431.8" x2="431.8" y1="280.9" y2="278.9" stroke="#1a1a1a" stroke-width="1"/>
<line x1="445.2" x2="445.2" y1="2.8" y2="5.4" stroke="#b8b8b8" stroke-width="0.8"/>
<line x1="458.6" x2="458.6" y1="2.8" y2="5.4" stroke="#b8b8b8" stroke-width="0.8"/>
<line x1="458.6" x2="458.6" y1="280.9" y2="278.9" stroke="#1a1a1a" stroke-width="1"/>
<line x1="472.0" x2="472.0" y1="2.8" y2="5.4" stroke="#b8b8b8" stroke-width="0.8"/>
<line x1="485.4" x2="485.4" y1="2.8" y2="5.4" stroke="#b8b8b8" stroke-width="0.8"/>
<line x1="485.4" x2="485.4" y1="280.9" y2="278.9" stroke="#1a1a1a" stroke-width="1"/>
<line x1="45.0" x2="46.8" y1="275.5" y2="275.5" stroke="#111" stroke-width="1"/>
<line x1="494.6" x2="492.20000000000005" y1="275.5" y2="275.5" stroke="#b8b8b8" stroke-width="0.8"/>
<line x1="45.0" x2="47.9" y1="267.1" y2="267.1" stroke="#111" stroke-width="1"/>
<line x1="494.6" x2="490.0" y1="267.1" y2="267.1" stroke="#b8b8b8" stroke-width="0.8"/>
<line x1="45.0" x2="46.8" y1="258.7" y2="258.7" stroke="#111" stroke-width="1"/>
<line x1="494.6" x2="492.20000000000005" y1="258.7" y2="258.7" stroke="#b8b8b8" stroke-width="0.8"/>
<line x1="45.0" x2="46.8" y1="250.4" y2="250.4" stroke="#111" stroke-width="1"/>
<line x1="494.6" x2="492.20000000000005" y1="250.4" y2="250.4" stroke="#b8b8b8" stroke-width="0.8"/>
<line x1="45.0" x2="46.8" y1="242.0" y2="242.0" stroke="#111" stroke-width="1"/>
<line x1="494.6" x2="492.20000000000005" y1="242.0" y2="242.0" stroke="#b8b8b8" stroke-width="0.8"/>
<line x1="45.0" x2="46.8" y1="233.7" y2="233.7" stroke="#111" stroke-width="1"/>
<line x1="494.6" x2="492.20000000000005" y1="233.7" y2="233.7" stroke="#b8b8b8" stroke-width="0.8"/>
<line x1="45.0" x2="47.9" y1="225.3" y2="225.3" stroke="#111" stroke-width="1"/>
<line x1="494.6" x2="490.0" y1="225.3" y2="225.3" stroke="#b8b8b8" stroke-width="0.8"/>
<line x1="45.0" x2="46.8" y1="216.9" y2="216.9" stroke="#111" stroke-width="1"/>
<line x1="494.6" x2="492.20000000000005" y1="216.9" y2="216.9" stroke="#b8b8b8" stroke-width="0.8"/>
<line x1="45.0" x2="46.8" y1="208.6" y2="208.6" stroke="#111" stroke-width="1"/>
<line x1="494.6" x2="492.20000000000005" y1="208.6" y2="208.6" stroke="#b8b8b8" stroke-width="0.8"/>
<line x1="45.0" x2="46.8" y1="200.2" y2="200.2" stroke="#111" stroke-width="1"/>
<line x1="494.6" x2="492.20000000000005" y1="200.2" y2="200.2" stroke="#b8b8b8" stroke-width="0.8"/>
<line x1="45.0" x2="46.8" y1="191.9" y2="191.9" stroke="#111" stroke-width="1"/>
<line x1="494.6" x2="492.20000000000005" y1="191.9" y2="191.9" stroke="#b8b8b8" stroke-width="0.8"/>
<line x1="45.0" x2="47.9" y1="183.5" y2="183.5" stroke="#111" stroke-width="1"/>
<line x1="494.6" x2="490.0" y1="183.5" y2="183.5" stroke="#b8b8b8" stroke-width="0.8"/>
<line x1="45.0" x2="46.8" y1="175.1" y2="175.1" stroke="#111" stroke-width="1"/>
<line x1="494.6" x2="492.20000000000005" y1="175.1" y2="175.1" stroke="#b8b8b8" stroke-width="0.8"/>
<line x1="45.0" x2="46.8" y1="166.8" y2="166.8" stroke="#111" stroke-width="1"/>
<line x1="494.6" x2="492.20000000000005" y1="166.8" y2="166.8" stroke="#b8b8b8" stroke-width="0.8"/>
<line x1="45.0" x2="46.8" y1="158.4" y2="158.4" stroke="#111" stroke-width="1"/>
<line x1="494.6" x2="492.20000000000005" y1="158.4" y2="158.4" stroke="#b8b8b8" stroke-width="0.8"/>
<line x1="45.0" x2="46.8" y1="150.1" y2="150.1" stroke="#111" stroke-width="1"/>
<line x1="494.6" x2="492.20000000000005" y1="150.1" y2="150.1" stroke="#b8b8b8" stroke-width="0.8"/>
<line x1="45.0" x2="47.9" y1="141.7" y2="141.7" stroke="#111" stroke-width="1"/>
<line x1="494.6" x2="490.0" y1="141.7" y2="141.7" stroke="#b8b8b8" stroke-width="0.8"/>
<line x1="45.0" x2="46.8" y1="133.3" y2="133.3" stroke="#111" stroke-width="1"/>
<line x1="494.6" x2="492.20000000000005" y1="133.3" y2="133.3" stroke="#b8b8b8" stroke-width="0.8"/>
<line x1="45.0" x2="46.8" y1="125.0" y2="125.0" stroke="#111" stroke-width="1"/>
<line x1="494.6" x2="492.20000000000005" y1="125.0" y2="125.0" stroke="#b8b8b8" stroke-width="0.8"/>
<line x1="45.0" x2="46.8" y1="116.6" y2="116.6" stroke="#111" stroke-width="1"/>
<line x1="494.6" x2="492.20000000000005" y1="116.6" y2="116.6" stroke="#b8b8b8" stroke-width="0.8"/>
<line x1="45.0" x2="46.8" y1="108.3" y2="108.3" stroke="#111" stroke-width="1"/>
<line x1="494.6" x2="492.20000000000005" y1="108.3" y2="108.3" stroke="#b8b8b8" stroke-width="0.8"/>
<line x1="45.0" x2="47.9" y1="99.9" y2="99.9" stroke="#111" stroke-width="1"/>
<line x1="494.6" x2="490.0" y1="99.9" y2="99.9" stroke="#b8b8b8" stroke-width="0.8"/>
<line x1="45.0" x2="46.8" y1="91.5" y2="91.5" stroke="#111" stroke-width="1"/>
<line x1="494.6" x2="492.20000000000005" y1="91.5" y2="91.5" stroke="#b8b8b8" stroke-width="0.8"/>
<line x1="45.0" x2="46.8" y1="83.2" y2="83.2" stroke="#111" stroke-width="1"/>
<line x1="494.6" x2="492.20000000000005" y1="83.2" y2="83.2" stroke="#b8b8b8" stroke-width="0.8"/>
<line x1="45.0" x2="46.8" y1="74.8" y2="74.8" stroke="#111" stroke-width="1"/>
<line x1="494.6" x2="492.20000000000005" y1="74.8" y2="74.8" stroke="#b8b8b8" stroke-width="0.8"/>
<line x1="45.0" x2="46.8" y1="66.5" y2="66.5" stroke="#111" stroke-width="1"/>
<line x1="494.6" x2="492.20000000000005" y1="66.5" y2="66.5" stroke="#b8b8b8" stroke-width="0.8"/>
<line x1="45.0" x2="47.9" y1="58.1" y2="58.1" stroke="#111" stroke-width="1"/>
<line x1="494.6" x2="490.0" y1="58.1" y2="58.1" stroke="#b8b8b8" stroke-width="0.8"/>
<line x1="45.0" x2="46.8" y1="49.7" y2="49.7" stroke="#111" stroke-width="1"/>
<line x1="494.6" x2="492.20000000000005" y1="49.7" y2="49.7" stroke="#b8b8b8" stroke-width="0.8"/>
<line x1="45.0" x2="46.8" y1="41.4" y2="41.4" stroke="#111" stroke-width="1"/>
<line x1="494.6" x2="492.20000000000005" y1="41.4" y2="41.4" stroke="#b8b8b8" stroke-width="0.8"/>
<line x1="45.0" x2="46.8" y1="33.0" y2="33.0" stroke="#111" stroke-width="1"/>
<line x1="494.6" x2="492.20000000000005" y1="33.0" y2="33.0" stroke="#b8b8b8" stroke-width="0.8"/>
<line x1="45.0" x2="46.8" y1="24.7" y2="24.7" stroke="#111" stroke-width="1"/>
<line x1="494.6" x2="492.20000000000005" y1="24.7" y2="24.7" stroke="#b8b8b8" stroke-width="0.8"/>
<line x1="45.0" x2="47.9" y1="16.3" y2="16.3" stroke="#111" stroke-width="1"/>
<line x1="494.6" x2="490.0" y1="16.3" y2="16.3" stroke="#b8b8b8" stroke-width="0.8"/>
<line x1="45.0" x2="46.8" y1="7.9" y2="7.9" stroke="#111" stroke-width="1"/>
<line x1="494.6" x2="492.20000000000005" y1="7.9" y2="7.9" stroke="#b8b8b8" stroke-width="0.8"/>
<path d="M44.35,2.8H495.25" stroke="#474747" stroke-width="1.3" fill="none"/>
<path d="M44.35,280.9H495.25" stroke="#3c3c3c" stroke-width="1.3" fill="none"/>
<path d="M45.0,2.8V280.9" stroke="#161616" stroke-width="1.35" fill="none"/>
<path d="M494.6,2.8V280.9" stroke="#111" stroke-width="1.3" fill="none"/>
<rect x="338" y="17" width="22.2" height="8" fill="#8ffb8f"/>
<circle cx="348.8" cy="41" r="2.1" fill="#0a6a0a"/>
<line x1="343.2" x2="354.6" y1="60.5" y2="60.5" stroke="#000" stroke-width="2"/>
<line x1="343.2" x2="354.6" y1="75.5" y2="75.5" stroke="#4646ff" stroke-width="0.9" stroke-dasharray="5 1.4"/>
<line x1="343.2" x2="354.6" y1="92.7" y2="92.7" stroke="#ff962e" stroke-width="0.9" stroke-dasharray="5 1.4"/>
<line x1="343.2" x2="354.6" y1="110.4" y2="110.4" stroke="#ff7f0e" stroke-width="2"/>
</svg>
<div id="tx" style="position:absolute;left:0;top:0;width:498px;height:323px;opacity:0.999;will-change:transform;">
<div class="t" style="left:21.6px;top:8.89px;font-size:14.6px;">1.5</div>
<div class="t" style="left:21.6px;top:50.69px;font-size:14.6px;">1.4</div>
<div class="t" style="left:21.6px;top:92.49px;font-size:14.6px;">1.3</div>
<div class="t" style="left:21.6px;top:134.29px;font-size:14.6px;">1.2</div>
<div class="t" style="left:21.6px;top:176.09px;font-size:14.6px;">1.1</div>
<div class="t" style="left:21.6px;top:217.89px;font-size:14.6px;">1.0</div>
<div class="t" style="left:21.6px;top:259.69px;font-size:14.6px;">0.9</div>
<div class="t" style="left:126.9px;top:284.54px;font-size:14.6px;">1.0</div>
<div class="t" style="left:260.9px;top:284.54px;font-size:14.6px;">1.5</div>
<div class="t" style="left:394.9px;top:284.54px;font-size:14.6px;">2.0</div>
<div class="t" style="left:244.2px;top:305.67px;font-size:14.8px;">Q(GeV)</div>
<div class="t" style="left:-7.9px;top:135.0px;width:32px;text-align:center;font-size:14.8px;transform:rotate(-90deg);transform-origin:50% 50%;">D(Q)</div>
<div class="t" style="left:371.9px;top:16.77px;font-size:11.5px;-webkit-text-stroke:0.12px #000;">Experimental data</div>
<div class="t" style="left:373.8px;top:36.27px;font-size:11.5px;-webkit-text-stroke:0.12px #000;">Fitted points</div>
<div class="t" style="left:373.6px;top:53.07px;font-size:11.5px;-webkit-text-stroke:0.12px #000;">Resurgence</div>
<div class="t" style="left:373.6px;top:69.37px;font-size:11.5px;-webkit-text-stroke:0.12px #000;">Perturbative</div>
<div class="t" style="left:371.9px;top:86.17px;font-size:11.5px;-webkit-text-stroke:0.12px #000;">2<span class="sup">nd</span> IR renormalon</div>
<div class="t" style="left:372.3px;top:103.17px;font-size:11.5px;-webkit-text-stroke:0.12px #000;">2<span class="sup">nd</span> and 3<span class="sup">rd</span> IR ren.</div>
<div class="t" style="left:390.6px;top:198.97px;font-size:11.5px;-webkit-text-stroke:0.12px #000;letter-spacing:0.18px;"><i>α</i><span class="sub"><i>s</i></span>(<i>M</i><span class="sub"><i>Z</i></span>) = 0.1198</div>
<div class="t" style="left:288px;top:227.87px;font-size:11.5px;-webkit-text-stroke:0.12px #000;-webkit-text-stroke:0;"><b><i>m</i><span class="sub"><i>c</i></span></b></div>
</div>
</body></html>
